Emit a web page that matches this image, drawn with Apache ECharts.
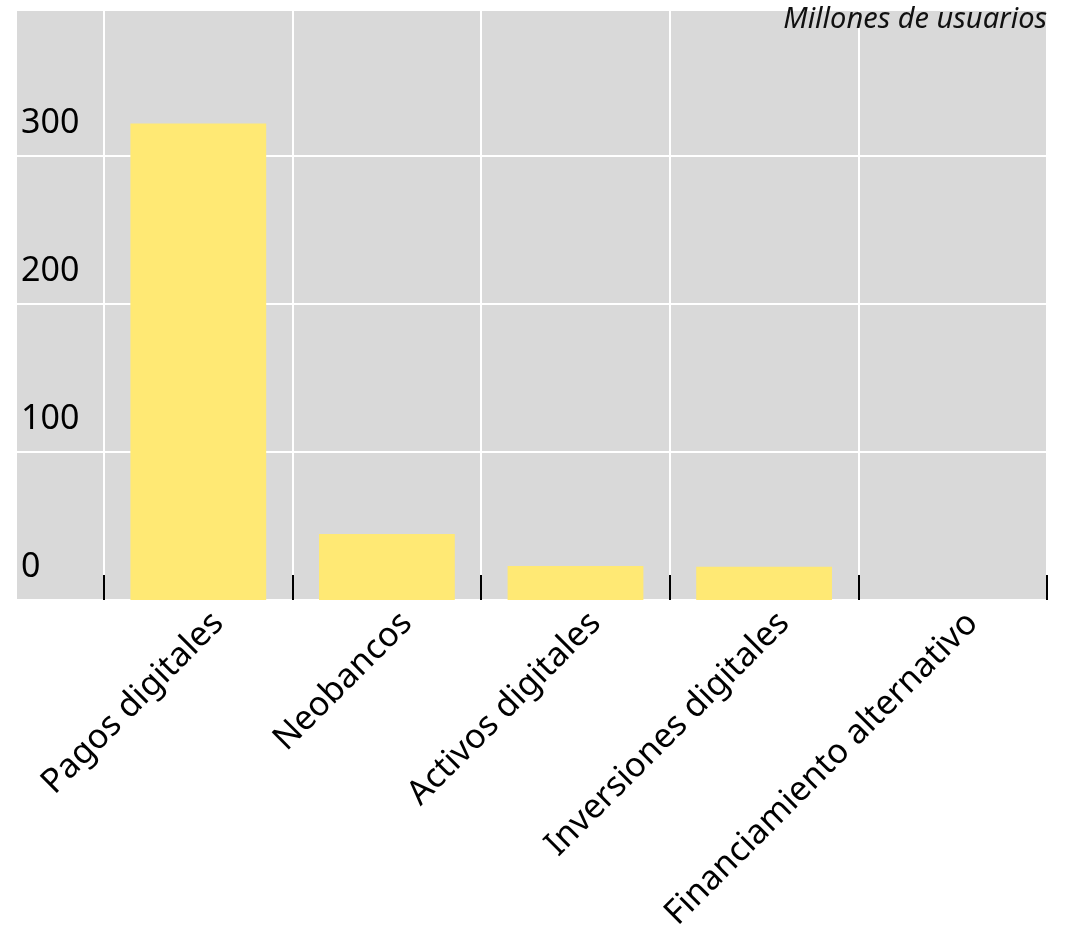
<!DOCTYPE html>
<html>
<head>
<meta charset="utf-8">
<script src="https://cdn.jsdelivr.net/npm/echarts@6/dist/echarts.min.js"></script>
<style>
html,body{margin:0;padding:0;background:#fff;}
#chart{width:1074px;height:927px;}
</style>
</head>
<body>
<div id="chart"></div>
<script>
const categories = ['Pagos digitales', 'Neobancos', 'Activos digitales', 'Inversiones digitales', 'Financiamiento alternativo'];
const usuarios = [322, 44.6, 23, 22.5, 0];
const yMin = 0;
const yMax = 398.6;
const yInterval = 100;
const unitLabel = 'Millones de usuarios';

const FONT = '"Noto Sans", "Open Sans", sans-serif';
const chart = echarts.init(document.getElementById('chart'), null, {renderer: 'canvas'});
chart.setOption({
  animation: false,
  backgroundColor: '#ffffff',
  title: {
    text: unitLabel,
    right: 27,
    top: 5,
    padding: 0,
    textStyle: {fontFamily: FONT, fontSize: 29, fontStyle: 'italic', fontWeight: 'normal', color: '#111'}
  },
  grid: [
    {left: 17, right: 27, top: 10, bottom: 327, show: true, backgroundColor: '#d9d9d9', borderWidth: 0,
      containLabel: false, outerBoundsMode: 'none'},
    {left: 104, right: 27, top: 10, bottom: 327, containLabel: false, outerBoundsMode: 'none'}
  ],
  xAxis: [
    {gridIndex: 0, type: 'value', show: false, min: 0, max: 1},
    {
      gridIndex: 1, type: 'category', data: categories, boundaryGap: true,
      axisLine: {show: false},
      axisTick: {show: true, inside: true, length: 25, lineStyle: {color: '#000', width: 2}},
      splitLine: {show: true, lineStyle: {color: '#ffffff', width: 2}},
      axisLabel: {rotate: 45, margin: 8, interval: 0, verticalAlign: 'top', lineHeight: 42,
        padding: [0, -7, 0, 0], fontFamily: FONT, fontSize: 34, color: '#000'}
    }
  ],
  yAxis: [
    {
      gridIndex: 0, type: 'value', min: yMin, max: yMax, interval: yInterval,
      axisLine: {show: false}, axisTick: {show: false},
      splitLine: {show: true, lineStyle: {color: '#ffffff', width: 2}},
      axisLabel: {inside: true, margin: 4, showMaxLabel: false, verticalAlign: 'bottom', padding: [0, 0, 16, 0],
        fontFamily: FONT, fontSize: 34, color: '#000'}
    },
    {gridIndex: 1, type: 'value', min: yMin, max: yMax, show: false}
  ],
  series: [{
    type: 'bar', xAxisIndex: 1, yAxisIndex: 1, data: usuarios,
    barWidth: '72%', itemStyle: {color: '#ffe974'}
  }]
});
</script>
</body>
</html>
